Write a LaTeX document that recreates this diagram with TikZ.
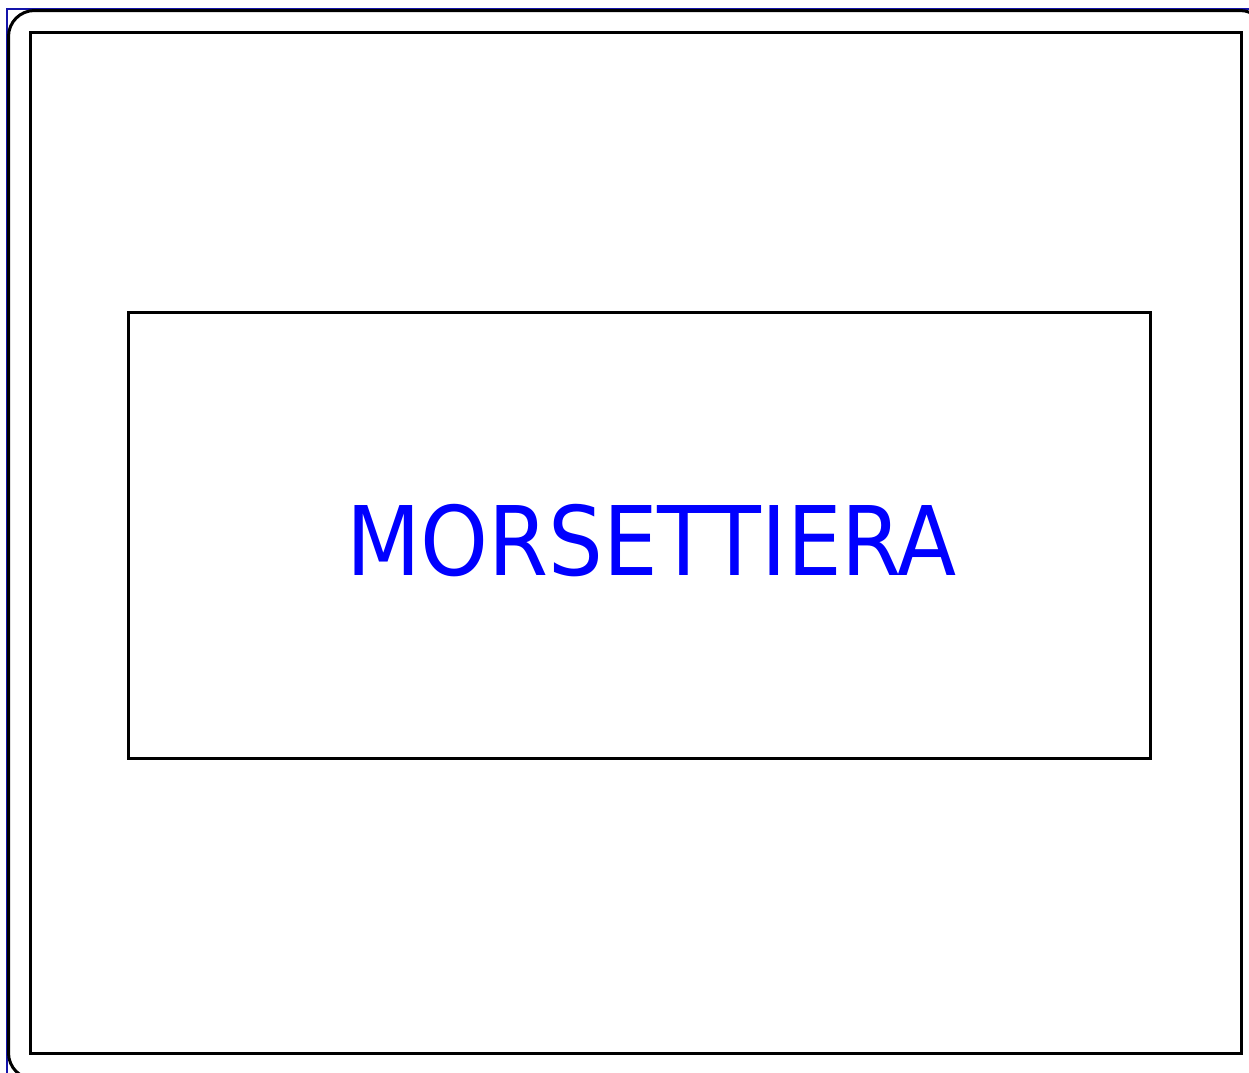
\documentclass[tikz,border=0pt]{standalone}
\usepackage{fontspec}
\newfontfamily\labelfont{DejaVu Sans Condensed}
\definecolor{pureblue}{RGB}{0,0,255}
\definecolor{frameblue}{RGB}{20,20,170}
\tikzset{
  frame/.style={draw=black, line width=3pt},
  panel/.style={draw=black, line width=3pt, inner sep=0pt},
  caption/.style={font=\labelfont\fontsize{96}{96}\selectfont, text=pureblue, inner sep=0pt}
}
\begin{document}
\begin{tikzpicture}[x=1pt, y=-1pt]
  % Canvas, sized like the drawing sheet (pixels)
  \useasboundingbox (0,0) rectangle (1249,1072);
  \clip (0,0) rectangle (1249,1072);
  % Sheet border
  \draw[frameblue, line width=1.5pt] (7,9) rectangle (1300,1100);
  \draw[black, line width=3pt, rounded corners=26pt] (8.5,10.5) rectangle (1266,1079);
  % Outer frame
  \draw[frame] (30,32) rectangle (1241,1053);
  % Terminal block
  \node[panel, minimum width=1022pt, minimum height=446pt] (morsettiera) at (639,535) {};
  \node[caption, anchor=base] (etichetta) at (651.5,575) {MORSETTIERA};
\end{tikzpicture}
\end{document}
